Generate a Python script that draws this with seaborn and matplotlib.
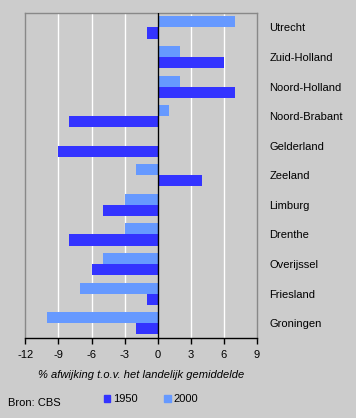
import pandas as pd
import matplotlib
matplotlib.use("Agg")
import matplotlib.pyplot as plt
import seaborn as sns

# provinces, top to bottom as in the chart
provinces = ["Utrecht", "Zuid-Holland", "Noord-Holland", "Noord-Brabant",
             "Gelderland", "Zeeland", "Limburg", "Drenthe", "Overijssel",
             "Friesland", "Groningen"]
vals_1950 = [-1, 6, 7, -8, -9, 4, -5, -8, -6, -1, -2]
vals_2000 = [7, 2, 2, 1, 0, -2, -3, -3, -5, -7, -10]
xticks = [-12, -9, -6, -3, 0, 3, 6, 9]

df = pd.DataFrame({
    "provincie": provinces * 2,
    "jaar": ["1950"] * len(provinces) + ["2000"] * len(provinces),
    "waarde": vals_1950 + vals_2000,
})

bg = "#cccccc"
sns.set_theme(style="white")
plt.rcParams["font.family"] = ["Liberation Sans", "DejaVu Sans"]
plt.rcParams["text.color"] = "black"
plt.rcParams["xtick.color"] = "black"
plt.rcParams["ytick.color"] = "black"
plt.rcParams["axes.labelcolor"] = "black"
fs = 8

fig = plt.figure(figsize=(3.56, 4.18), dpi=100, facecolor=bg)
ax = fig.add_axes([0.0711, 0.1914, 0.6509, 0.7782], facecolor=bg)

pal = {"1950": "#3333ff", "2000": "#6699ff"}
sns.barplot(data=df, y="provincie", x="waarde", hue="jaar",
            hue_order=["2000", "1950"], order=provinces, palette=pal,
            orient="h", width=0.75, saturation=1, linewidth=0,
            ax=ax, legend=False)

ax.set_xlim(-12, 9)
ax.set_xticks(xticks)
ax.set_xticklabels([str(t) for t in xticks], fontsize=fs)
for t in xticks[1:-1]:
    ax.axvline(t, color="white", lw=1, zorder=0)
ax.axvline(0, color="black", lw=1, zorder=3)

ax.yaxis.tick_right()
ax.tick_params(axis="y", length=0, pad=9, labelsize=fs)
ax.tick_params(axis="x", direction="out", length=4, width=1, color="black",
               pad=5, bottom=True)
ax.set_ylabel("")
ax.set_xlabel("% afwijking t.o.v. het landelijk gemiddelde",
              fontsize=fs, style="italic", labelpad=7)

for s in ["left", "top", "right"]:
    ax.spines[s].set_color("#888888")
    ax.spines[s].set_linewidth(1)
ax.spines["bottom"].set_color("black")
ax.spines["bottom"].set_linewidth(1)

handles = [plt.Rectangle((0, 0), 1, 1, color=pal["1950"]),
           plt.Rectangle((0, 0), 1, 1, color=pal["2000"])]
fig.legend(handles, ["1950", "2000"], loc="center", ncol=2,
           bbox_to_anchor=(151 / 356, 0.045), frameon=False, fontsize=fs,
           handlelength=0.6, handleheight=0.6, handletextpad=0.25,
           columnspacing=2.4)
fig.text(8 / 356, 0.036, "Bron: CBS", fontsize=fs, va="center")

fig.savefig("out.png", dpi=100, facecolor=bg)
